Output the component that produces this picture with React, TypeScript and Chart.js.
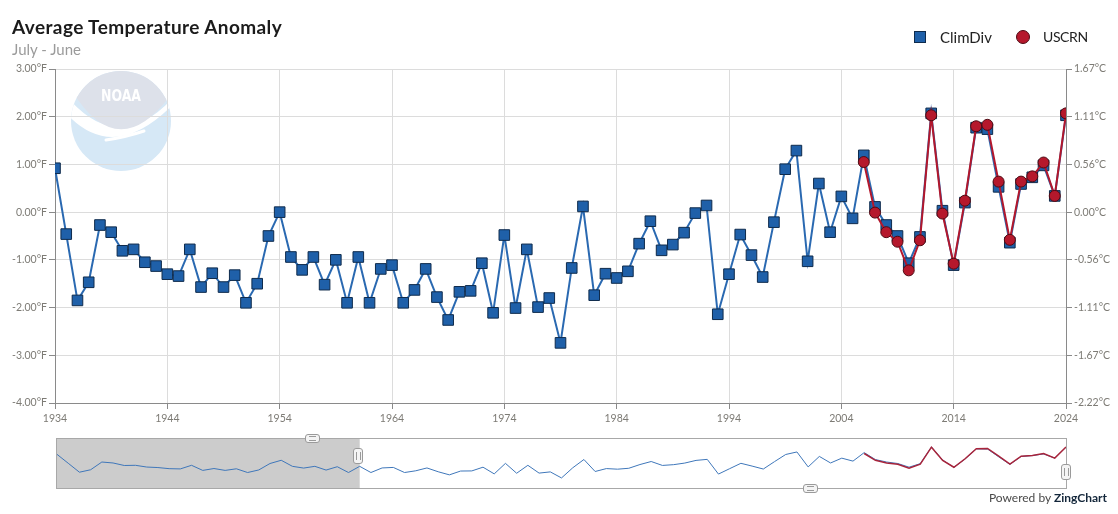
import React, { useEffect, useRef } from 'react';
import { Chart, registerables } from 'chart.js';

Chart.register(...registerables);

const FONT = 'Lato, "Open Sans", sans-serif';

const years = [
  1934, 1935, 1936, 1937, 1938, 1939, 1940, 1941, 1942, 1943,
  1944, 1945, 1946, 1947, 1948, 1949, 1950, 1951, 1952, 1953,
  1954, 1955, 1956, 1957, 1958, 1959, 1960, 1961, 1962, 1963,
  1964, 1965, 1966, 1967, 1968, 1969, 1970, 1971, 1972, 1973,
  1974, 1975, 1976, 1977, 1978, 1979, 1980, 1981, 1982, 1983,
  1984, 1985, 1986, 1987, 1988, 1989, 1990, 1991, 1992, 1993,
  1994, 1995, 1996, 1997, 1998, 1999, 2000, 2001, 2002, 2003,
  2004, 2005, 2006, 2007, 2008, 2009, 2010, 2011, 2012, 2013,
  2014, 2015, 2016, 2017, 2018, 2019, 2020, 2021, 2022, 2023,
  2024,
];

const climDiv = [
  0.92, -0.46, -1.85, -1.47, -0.27, -0.42, -0.81, -0.78, -1.05, -1.13,
  -1.30, -1.34, -0.78, -1.57, -1.28, -1.57, -1.32, -1.90, -1.50, -0.50,
  0.00, -0.94, -1.21, -0.94, -1.52, -1.00, -1.90, -0.94, -1.90, -1.19,
  -1.11, -1.90, -1.63, -1.19, -1.78, -2.26, -1.67, -1.65, -1.07, -2.11,
  -0.48, -2.01, -0.78, -1.99, -1.80, -2.74, -1.17, 0.12, -1.74, -1.29,
  -1.38, -1.24, -0.66, -0.19, -0.80, -0.68, -0.43, -0.02, 0.14, -2.14,
  -1.30, -0.47, -0.90, -1.36, -0.21, 0.90, 1.29, -1.03, 0.60, -0.42,
  0.33, -0.13, 1.19, 0.11, -0.27, -0.50, -1.07, -0.52, 2.07, 0.03,
  -1.11, 0.20, 1.77, 1.74, 0.53, -0.64, 0.59, 0.73, 0.98, 0.34,
  2.03,
];

const uscrnYears = [
  2006, 2007, 2008, 2009, 2010, 2011, 2012, 2013, 2014, 2015,
  2016, 2017, 2018, 2019, 2020, 2021, 2022, 2023, 2024,
];

const uscrn = [
  1.05, -0.01, -0.42, -0.62, -1.22, -0.59, 2.03, -0.03, -1.08, 0.24,
  1.80, 1.83, 0.64, -0.58, 0.64, 0.75, 1.04, 0.34, 2.07,
];

const xTickYears = [1934, 1944, 1954, 1964, 1974, 1984, 1994, 2004, 2014, 2024];
const fTicks = [-4, -3, -2, -1, 0, 1, 2, 3];
const F_TO_C = 5 / 9;
const selectionEndYear = 1961;

const TICK_COLOR = '#7d7b75';
const GRID_COLOR = '#dcdcdc';
const AXIS_COLOR = '#8a8a8a';

const noaaLogo = {
  id: 'noaaLogo',
  beforeDraw(chart: any) {
    const ctx = chart.ctx;
    const cx = 121, cy = 121, r = 50;
    ctx.save();
    ctx.beginPath();
    ctx.arc(cx, cy, r, 0, Math.PI * 2);
    ctx.clip();
    ctx.fillStyle = '#d6e8f6';
    ctx.fillRect(cx - r, cy - r, 2 * r, 2 * r);
    // white band
    ctx.fillStyle = '#ffffff';
    ctx.beginPath();
    ctx.moveTo(60, 88);
    ctx.quadraticCurveTo(118, 165, 180, 90);
    ctx.lineTo(180, 97);
    ctx.quadraticCurveTo(112, 172, 60, 106);
    ctx.closePath();
    ctx.fill();
    // gray top
    ctx.fillStyle = '#dde1ea';
    ctx.beginPath();
    ctx.moveTo(60, 60);
    ctx.lineTo(60, 91);
    ctx.lineTo(72, 91);
    ctx.quadraticCurveTo(118, 165, 170, 96);
    ctx.lineTo(185, 96);
    ctx.lineTo(185, 60);
    ctx.closePath();
    ctx.fill();
    // tail
    ctx.strokeStyle = '#ffffff';
    ctx.lineWidth = 3;
    ctx.lineCap = 'round';
    ctx.beginPath();
    ctx.moveTo(106, 140);
    ctx.quadraticCurveTo(126, 137, 144, 131);
    ctx.stroke();
    // NOAA text
    ctx.fillStyle = '#ffffff';
    ctx.font = 'bold 16px "DejaVu Sans"';
    ctx.textAlign = 'center';
    ctx.textBaseline = 'middle';
    const w = ctx.measureText('NOAA').width;
    ctx.translate(cx, 97);
    ctx.scale(40 / w, 1);
    ctx.fillText('NOAA', 0, 0);
    ctx.restore();
  },
};

const selectionShade = {
  id: 'selectionShade',
  beforeDatasetsDraw(chart: any) {
    const { ctx, chartArea, scales } = chart;
    const xEnd = scales.x.getPixelForValue(selectionEndYear);
    ctx.save();
    ctx.fillStyle = '#cccccc';
    ctx.fillRect(chartArea.left, chartArea.top, xEnd - chartArea.left, chartArea.bottom - chartArea.top);
    ctx.restore();
  },
};

const handleStyle: React.CSSProperties = {
  position: 'absolute',
  boxSizing: 'border-box',
  background: '#f4f4f4',
  border: '1.5px solid #9a9a9a',
  borderRadius: 3,
  display: 'flex',
  alignItems: 'center',
  justifyContent: 'center',
};

function HHandle({ left, top }: { left: number; top: number }) {
  return (
    <div style={{ ...handleStyle, left, top, width: 15, height: 9 }}>
      <div style={{ width: 7, height: 3, borderTop: '1px solid #9a9a9a', borderBottom: '1px solid #9a9a9a' }} />
    </div>
  );
}

function VHandle({ left, top }: { left: number; top: number }) {
  return (
    <div style={{ ...handleStyle, left, top, width: 10, height: 16 }}>
      <div style={{ width: 3, height: 8, borderLeft: '1px solid #9a9a9a', borderRight: '1px solid #9a9a9a' }} />
    </div>
  );
}

export default function App() {
  const mainRef = useRef<HTMLCanvasElement>(null);
  const previewRef = useRef<HTMLCanvasElement>(null);

  useEffect(() => {
    const tickFont = { family: FONT, size: 10.5 };
    const main = new Chart(mainRef.current!, {
      type: 'line',
      data: {
        datasets: [
          {
            label: 'ClimDiv',
            data: years.map((y, i) => ({ x: y, y: climDiv[i] })),
            borderColor: '#2a69b1',
            borderWidth: 2,
            pointStyle: 'rect',
            pointRadius: 7.5,
            pointBackgroundColor: '#1f60a9',
            pointBorderColor: '#0f2b4c',
            pointBorderWidth: 1,
            tension: 0,
            order: 2,
            yAxisID: 'y',
          },
          {
            label: 'USCRN',
            data: uscrnYears.map((y, i) => ({ x: y, y: uscrn[i] })),
            borderColor: '#b3172c',
            borderWidth: 2,
            pointStyle: 'circle',
            pointRadius: 5.5,
            pointBackgroundColor: '#b5182c',
            pointBorderColor: '#4e0a13',
            pointBorderWidth: 1,
            tension: 0,
            order: 1,
            yAxisID: 'y',
          },
        ],
      },
      options: {
        responsive: false,
        animation: false,
        layout: { padding: { top: 69, left: 0, right: 0, bottom: 0 } },
        plugins: {
          legend: { display: false },
          tooltip: { enabled: false },
        },
        scales: {
          x: {
            type: 'linear',
            min: 1934,
            max: 2024,
            afterBuildTicks: (s: any) => {
              s.ticks = xTickYears.map((v) => ({ value: v }));
            },
            afterFit: (s: any) => {
              s.height = 37;
            },
            ticks: {
              callback: (v: any) => String(v),
              color: TICK_COLOR,
              font: tickFont,
              padding: 3,
              maxRotation: 0,
              autoSkip: false,
            },
            grid: { color: GRID_COLOR, tickColor: AXIS_COLOR, tickLength: 6, lineWidth: 1 },
            border: { color: AXIS_COLOR, width: 1 },
          },
          y: {
            position: 'left',
            min: -4,
            max: 3,
            afterBuildTicks: (s: any) => {
              s.ticks = fTicks.map((v) => ({ value: v }));
            },
            afterFit: (s: any) => {
              s.width = 55;
            },
            ticks: {
              callback: (v: any) => `${Number(v).toFixed(2)}°F`,
              color: TICK_COLOR,
              font: tickFont,
              padding: 2,
            },
            grid: { color: GRID_COLOR, tickColor: AXIS_COLOR, tickLength: 6, lineWidth: 1 },
            border: { color: AXIS_COLOR, width: 1 },
          },
          y2: {
            position: 'right',
            min: -4 * F_TO_C,
            max: 3 * F_TO_C,
            afterBuildTicks: (s: any) => {
              s.ticks = fTicks.map((v) => ({ value: v * F_TO_C }));
            },
            afterFit: (s: any) => {
              s.width = 52;
            },
            ticks: {
              callback: (v: any) => {
                const n = Math.abs(Number(v)) < 1e-9 ? 0 : Number(v);
                return `${n.toFixed(2)}°C`;
              },
              color: TICK_COLOR,
              font: tickFont,
              padding: 2,
            },
            grid: { drawOnChartArea: false, color: GRID_COLOR, tickColor: AXIS_COLOR, tickLength: 6 },
            border: { color: AXIS_COLOR, width: 1 },
          },
        },
      } as any,
      plugins: [noaaLogo],
    });

    const preview = new Chart(previewRef.current!, {
      type: 'line',
      data: {
        datasets: [
          {
            data: years.map((y, i) => ({ x: y, y: climDiv[i] })),
            borderColor: '#3f77ba',
            borderWidth: 1,
            pointRadius: 0,
            tension: 0,
            order: 2,
          },
          {
            data: uscrnYears.map((y, i) => ({ x: y, y: uscrn[i] })),
            borderColor: '#a8243b',
            borderWidth: 1.5,
            pointRadius: 0,
            tension: 0,
            order: 1,
          },
        ],
      },
      options: {
        responsive: false,
        animation: false,
        layout: { padding: 0 },
        plugins: { legend: { display: false }, tooltip: { enabled: false } },
        scales: {
          x: { type: 'linear', min: 1934, max: 2024, display: false },
          y: { min: -4.3, max: 3.3, display: false },
        },
      } as any,
      plugins: [selectionShade],
    });

    return () => {
      main.destroy();
      preview.destroy();
    };
  }, []);

  return (
    <div
      style={{
        position: 'absolute',
        left: 0,
        top: 0,
        width: 1118,
        height: 514,
        background: '#ffffff',
        fontFamily: FONT,
        overflow: 'hidden',
      }}
    >
      <canvas ref={mainRef} width={1118} height={440} style={{ position: 'absolute', left: 0, top: 0 }} />
      <div
        style={{
          position: 'absolute',
          left: 12,
          top: 15,
          fontSize: 19,
          lineHeight: '24px',
          fontWeight: 700,
          letterSpacing: 0.4,
          color: '#1b1b1b',
          whiteSpace: 'nowrap',
        }}
      >
        Average Temperature Anomaly
      </div>
      <div
        style={{
          position: 'absolute',
          left: 12,
          top: 40,
          fontSize: 15,
          lineHeight: '18px',
          color: '#9b9b9b',
          whiteSpace: 'nowrap',
        }}
      >
        July - June
      </div>
      {/* legend */}
      <div
        style={{
          position: 'absolute',
          left: 914,
          top: 31,
          width: 12,
          height: 12,
          boxSizing: 'border-box',
          background: '#1f60a9',
          border: '1px solid #0f2b4c',
        }}
      />
      <div style={{ position: 'absolute', left: 940, top: 28, fontSize: 15, lineHeight: '18px', color: '#222', whiteSpace: 'nowrap' }}>
        ClimDiv
      </div>
      <div
        style={{
          position: 'absolute',
          left: 1016,
          top: 30,
          width: 14,
          height: 14,
          boxSizing: 'border-box',
          borderRadius: '50%',
          background: '#b5182c',
          border: '1px solid #4e0a13',
        }}
      />
      <div
        style={{
          position: 'absolute',
          left: 1043,
          top: 28,
          fontSize: 14,
          lineHeight: '18px',
          letterSpacing: -0.4,
          color: '#222',
          whiteSpace: 'nowrap',
        }}
      >
        USCRN
      </div>
      {/* preview / scroll area */}
      <div
        style={{
          position: 'absolute',
          left: 56,
          top: 438,
          width: 1011,
          height: 51,
          boxSizing: 'border-box',
          border: '1px solid #a8a8a8',
          overflow: 'hidden',
        }}
      >
        <canvas ref={previewRef} width={1009} height={49} style={{ display: 'block' }} />
      </div>
      <HHandle left={305} top={434} />
      <VHandle left={353} top={448} />
      <VHandle left={1061} top={464} />
      <HHandle left={803} top={484} />
      <div
        style={{
          position: 'absolute',
          right: 11,
          top: 491,
          fontSize: 12,
          lineHeight: '14px',
          color: '#4a4a4a',
          whiteSpace: 'nowrap',
        }}
      >
        Powered by <span style={{ fontWeight: 700, color: '#13263a' }}>ZingChart</span>
      </div>
    </div>
  );
}
